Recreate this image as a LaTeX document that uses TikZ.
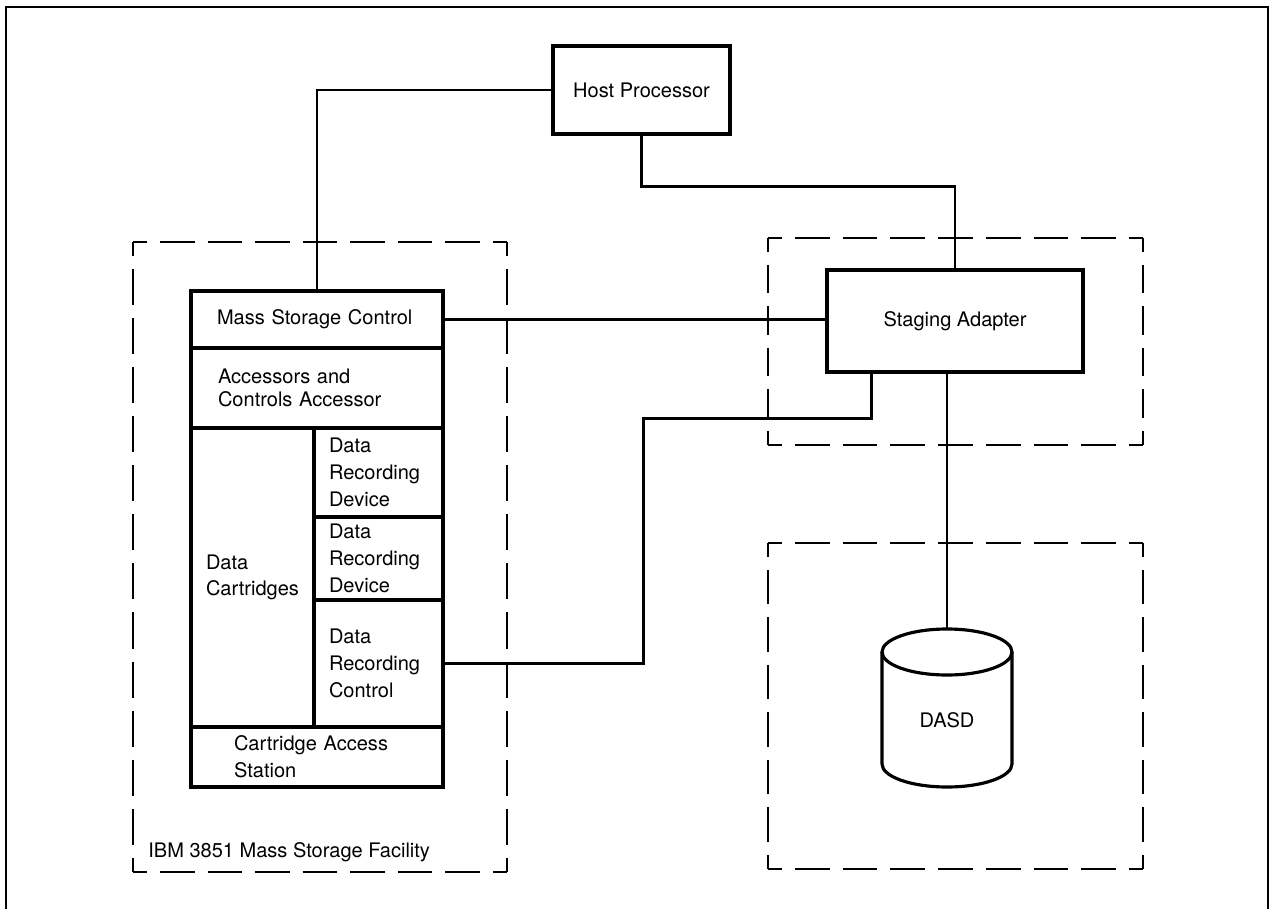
\documentclass[tikz,border=0pt]{standalone}
\usepackage{fontspec}
\setmainfont{TeX Gyre Heros}
\usetikzlibrary{calc}
\begin{document}
\begin{tikzpicture}[x=0.02cm,y=-0.02cm,
  txt/.style={font=\fontsize{11.4}{15.2}\selectfont},
  blk/.style={draw, line width=1.9pt, inner sep=0pt, txt},
  lbox/.style={blk, align=left},
  conn/.style={line width=1.6pt},
  dside/.style 2 args={line width=1.2pt, dash pattern=on #1 off 0.26cm, dash phase=#2},
  frame/.style={line width=1.2pt}]
\fill[white] (0,0) rectangle (1274,909);
\useasboundingbox (0,0) rectangle (1274,909);

% outer frame
\draw[frame] (6,909) -- (6,7) -- (1268,7) -- (1268,909);

% dashed group boxes
\draw[dside={0.6914cm}{0.4114cm}] (133,242) -- (507,242);
\draw[dside={0.6914cm}{0.4114cm}] (133,872) -- (507,872);
\draw[dside={0.7216cm}{0.4416cm}] (133,242) -- (133,872);
\draw[dside={0.7216cm}{0.4416cm}] (507,242) -- (507,872);

\draw[dside={0.6942cm}{0.4142cm}] (768,238) -- (1143,238);
\draw[dside={0.6942cm}{0.4142cm}] (768,445) -- (1143,445);
\draw[dside={0.57cm}{0.29cm}] (768,238) -- (768,445);
\draw[dside={0.57cm}{0.29cm}] (1143,238) -- (1143,445);

\draw[dside={0.6942cm}{0.4142cm}] (768,543) -- (1143,543);
\draw[dside={0.6942cm}{0.4142cm}] (768,869) -- (1143,869);
\draw[dside={0.69cm}{0.41cm}] (768,543) -- (768,869);
\draw[dside={0.69cm}{0.41cm}] (1143,543) -- (1143,869);

\node[txt, anchor=base west, inner sep=0pt] (fac) at (148,857) {IBM 3851 Mass Storage Facility};

% blocks
\node[blk, minimum width=3.54cm, minimum height=1.76cm] (host) at (641.5,90) {Host Processor};
\node[blk, minimum width=5.12cm, minimum height=2.04cm] (sa) at (955,321) {Staging Adapter};

\node[lbox, minimum width=5.04cm, minimum height=1.14cm, text width=4cm] (msc) at (317,319.5) {Mass Storage Control};
\node[lbox, minimum width=5.04cm, minimum height=1.6cm, text width=3.96cm,
      font=\fontsize{11.4}{13.3}\selectfont] (acc) at (317,388) {Accessors and\\Controls Accessor};
\node[lbox, minimum width=2.46cm, minimum height=5.98cm, text width=1.86cm] (cart) at (252.5,577.5) {Data\\Cartridges};
\node[lbox, minimum width=2.58cm, minimum height=1.78cm, text width=1.98cm] (drd1) at (378.5,472.5) {Data\\Recording\\Device};
\node[lbox, minimum width=2.58cm, minimum height=1.66cm, text width=1.98cm] (drd2) at (378.5,558.5) {Data\\Recording\\Device};
\node[lbox, minimum width=2.58cm, minimum height=2.54cm, text width=1.98cm] (drc) at (378.5,663.5) {Data\\Recording\\Control};
\node[lbox, minimum width=5.04cm, minimum height=1.2cm, text width=3.32cm] (cas) at (317,757) {Cartridge Access\\Station};

% DASD cylinder
\coordinate (dasdtop) at (947,629);
\draw[line width=1.8pt] (947,652) ellipse [x radius=65, y radius=23];
\draw[line width=1.8pt] (882,652) -- (882,764) arc[start angle=180, end angle=0, x radius=65, y radius=23] -- (1012,652);
\node[txt, inner sep=0pt] (dasd) at (947,720) {DASD};

% connectors
\draw[conn] (host.west) -| (msc.north);
\draw[conn] (host.south) -- ++(0,51) -| (sa.north);
\draw[conn] (msc.east) -- (msc.east -| sa.west);
\coordinate (sab) at ($(sa.south west)+(46,0)$);
\draw[conn] (drc.east) -- ++(199,0) |- ($(sab)+(0,45)$) -- (sab);
\draw[conn] (sa.south -| dasdtop) -- (dasdtop);
\end{tikzpicture}
\end{document}
